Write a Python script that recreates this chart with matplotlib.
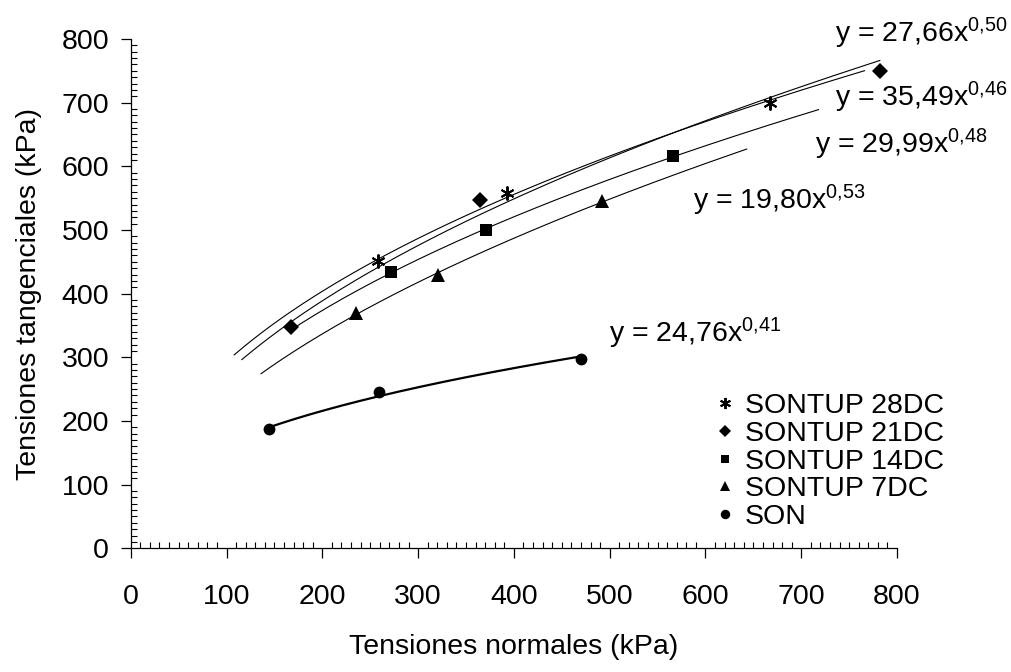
import matplotlib
matplotlib.use('Agg')
import matplotlib.pyplot as plt
from matplotlib.ticker import MultipleLocator
import numpy as np

FONT_SIZE = 20.5

# measured points (kPa)
SON_X = [144, 259, 470]
SON_Y = [187, 246, 297]
DC7_X = [235, 321, 492]
DC7_Y = [369, 429, 546]
DC14_X = [272, 371, 566]
DC14_Y = [434, 500, 616]
DC21_X = [167, 365, 782]
DC21_Y = [348, 547, 750]
DC28_X = [258, 393, 667]
DC28_Y = [451, 558, 700]

LABELS = ['SONTUP 28DC', 'SONTUP 21DC', 'SONTUP 14DC', 'SONTUP 7DC', 'SON']
MARKERS = [(6, 2, 0), 'D', 's', '^', 'o']
MARKER_SIZES = [10, 8, 8, 9.5, 8.5]

# x range covered by each power trendline (forecast back / forward)
TREND_RANGES = [(108, 766), (116, 782), (170, 718), (136, 643), (144, 470)]

# trendline equations as printed on the chart
EQUATIONS = ['y = 35,49x$^{\\mathrm{0{,}46}}$', 'y = 27,66x$^{\\mathrm{0{,}50}}$',
             'y = 29,99x$^{\\mathrm{0{,}48}}$', 'y = 19,80x$^{\\mathrm{0{,}53}}$',
             'y = 24,76x$^{\\mathrm{0{,}41}}$']
EQ_POS = [(735, 694), (735, 795), (714, 621), (587, 533), (499, 323)]


def power_fit(x, y):
    """Power trendline like Excel: linear fit on log-log."""
    b, ln_a = np.polyfit(np.log(x), np.log(y), 1)
    return np.exp(ln_a), b


def main():
    plt.rcParams['font.family'] = ['Liberation Sans', 'DejaVu Sans']
    plt.rcParams['font.size'] = FONT_SIZE
    plt.rcParams['mathtext.fontset'] = 'custom'
    plt.rcParams['mathtext.rm'] = 'Liberation Sans'
    plt.rcParams['mathtext.it'] = 'Liberation Sans:italic'

    fig = plt.figure(figsize=(10.12, 6.72), dpi=100)
    ax = fig.add_axes([0.1292, 0.1841, 0.7572, 0.7579])

    series = [(DC28_X, DC28_Y), (DC21_X, DC21_Y), (DC14_X, DC14_Y), (DC7_X, DC7_Y), (SON_X, SON_Y)]

    for i, (x, y) in enumerate(series):
        a, b = power_fit(x, y)
        xs = np.linspace(TREND_RANGES[i][0], TREND_RANGES[i][1], 200)
        lw = 1.6 if LABELS[i] == 'SON' else 0.8
        ax.plot(xs, a * xs ** b, color='black', lw=lw, zorder=2)
        mew = 1.4 if i == 0 else 0
        ax.plot(x, y, linestyle='none', marker=MARKERS[i], ms=MARKER_SIZES[i], color='black',
                mew=mew, label=LABELS[i], zorder=3)
        ax.text(EQ_POS[i][0], EQ_POS[i][1], EQUATIONS[i], ha='left', va='baseline', fontsize=FONT_SIZE)

    ax.set_xlim(0, 800)
    ax.set_ylim(0, 800)
    ax.xaxis.set_major_locator(MultipleLocator(100))
    ax.xaxis.set_minor_locator(MultipleLocator(10))
    ax.yaxis.set_major_locator(MultipleLocator(100))
    ax.yaxis.set_minor_locator(MultipleLocator(10))
    ax.tick_params(which='major', direction='out', length=7.5, width=0.9)
    ax.tick_params(which='minor', direction='in', length=4.3, width=0.8)
    ax.tick_params(axis='x', which='major', pad=18)
    ax.tick_params(axis='y', which='major', pad=8)
    for side in ['top', 'right']:
        ax.spines[side].set_visible(False)
    for side in ['left', 'bottom']:
        ax.spines[side].set_linewidth(0.9)

    ax.set_xlabel('Tensiones normales (kPa)')
    ax.set_ylabel('Tensiones tangenciales (kPa)')
    ax.xaxis.set_label_coords(0.5, -0.168)
    ax.yaxis.set_label_coords(-0.116, 0.5)

    ax.legend(loc='center left', bbox_to_anchor=(0.757, 0.170), frameon=False, borderpad=0,
              borderaxespad=0, handlelength=1.0, handletextpad=0.2, labelspacing=0.06,
              markerscale=0.8, fontsize=FONT_SIZE)

    fig.savefig('out.png', dpi=100)


if __name__ == '__main__':
    main()
